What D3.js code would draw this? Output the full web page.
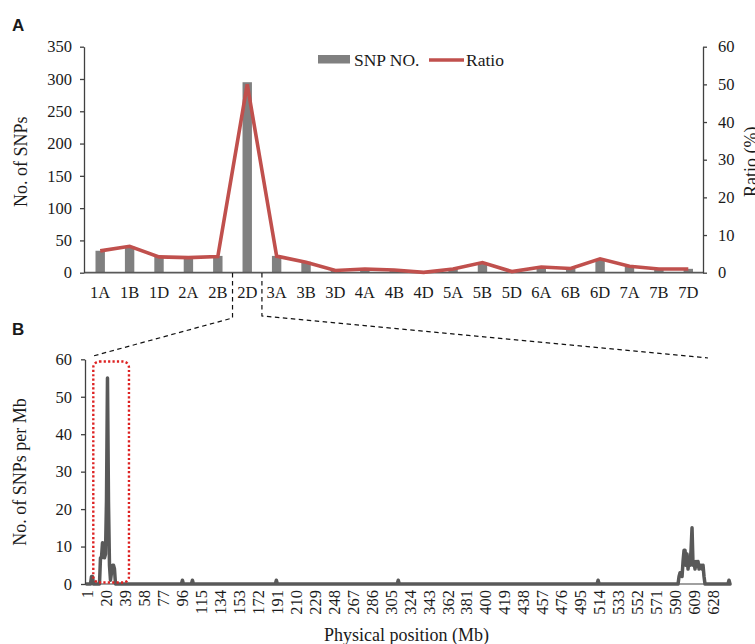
<!DOCTYPE html>
<html>
<head>
<meta charset="utf-8">
<script src="https://cdn.jsdelivr.net/npm/d3@7"></script>
<style>
  body { margin: 0; background: #fff; }
  svg { display: block; }
  text { font-family: "Liberation Serif", "Times New Roman", serif; fill: #1a1a1a; }
</style>
</head>
<body>
<svg id="svg"></svg>
<script>
const svgWidth = 755;
const svgHeight = 644;

// Panel A: SNPs per chromosome
const chromosomes = ["1A", "1B", "1D", "2A", "2B", "2D", "3A", "3B", "3D", "4A", "4B",
  "4D", "5A", "5B", "5D", "6A", "6B", "6D", "7A", "7B", "7D"];
const snpCounts = [34, 41, 25, 24, 26, 295, 26, 17, 3, 6, 4, 1, 6, 14, 2, 9, 7, 21, 10, 6, 6];
const ratios = [5.8, 7.0, 4.2, 4.0, 4.3, 50.0, 4.4, 2.8, 0.6, 1.0, 0.7, 0.1, 1.0, 2.7, 0.3,
  1.5, 1.1, 3.7, 1.7, 1.0, 1.0];
const countTicks = [0, 50, 100, 150, 200, 250, 300, 350];
const ratioTicks = [0, 10, 20, 30, 40, 50, 60];

// Panel B: SNPs per Mb along 2D (positions not listed are 0)
const chrLength = 645;
const nonZeroBins = [
  [6, 2], [7, 2],
  [15, 7], [16, 7], [17, 11], [18, 10], [19, 7], [20, 8], [21, 22], [22, 55], [23, 22],
  [24, 5], [25, 1], [26, 3], [27, 5], [28, 5], [29, 4],
  [97, 1], [107, 1], [191, 1], [313, 1], [513, 1],
  [594, 2], [595, 3], [596, 3], [597, 2], [598, 6], [599, 9], [600, 9], [601, 5], [602, 8],
  [603, 4], [604, 7], [605, 5], [606, 9], [607, 15], [608, 5], [609, 6], [610, 4], [611, 6],
  [612, 5], [613, 6], [614, 4], [615, 5], [616, 5], [617, 4], [618, 5], [619, 2],
  [644, 1]
];
const positionTicks = [1, 20, 39, 58, 77, 96, 115, 134, 153, 172, 191, 210, 229, 248, 267,
  286, 305, 324, 343, 362, 381, 400, 419, 438, 457, 476, 495, 514, 533, 552, 571, 590, 609, 628];
const densityTicks = [0, 10, 20, 30, 40, 50, 60];

const barColor = "#808080";
const ratioColor = "#c0504d";
const densityColor = "#595959";
const axisColor = "#404040";

let svg = d3.select("#svg").attr("width", svgWidth).attr("height", svgHeight);

function styleAxis(g, size) {
  g.selectAll("path.domain").attr("stroke", axisColor).attr("stroke-width", 1.3);
  g.selectAll(".tick line").attr("stroke", axisColor).attr("stroke-width", 1.3);
  g.selectAll(".tick text")
    .style("font-family", '"Liberation Serif", "Times New Roman", serif')
    .style("font-size", size + "px")
    .attr("fill", "#1a1a1a");
}

function makePanelA() {
  const xScale = d3.scaleBand().domain(chromosomes).range([85.5, 703]);
  const yScale = d3.scaleLinear().domain([0, 350]).range([272.7, 46.7]);
  const rScale = d3.scaleLinear().domain([0, 60]).range([272.7, 46.7]);
  const barW = xScale.step() * 0.32;

  // bars
  svg.append("g")
    .selectAll("rect")
    .data(chromosomes)
    .join("rect")
    .attr("x", (d) => xScale(d) + xScale.bandwidth() / 2 - barW / 2)
    .attr("y", (d, i) => yScale(snpCounts[i]))
    .attr("width", barW)
    .attr("height", (d, i) => yScale(0) - yScale(snpCounts[i]))
    .attr("fill", barColor);

  // x axis
  const xAxis = svg.append("g")
    .attr("transform", "translate(0," + yScale(0) + ")")
    .call(d3.axisBottom(xScale).tickSize(0).tickSizeOuter(0).tickPadding(13.6));
  xAxis.select("path.domain").remove();
  styleAxis(xAxis, 16.5);
  svg.append("line")
    .attr("x1", 84).attr("x2", 703)
    .attr("y1", yScale(0)).attr("y2", yScale(0))
    .attr("stroke", "#595959").attr("stroke-width", 1.8);

  // ratio line
  const line = d3.line()
    .x((d) => xScale(d) + xScale.bandwidth() / 2)
    .y((d, i) => rScale(ratios[i]));
  svg.append("path")
    .datum(chromosomes)
    .attr("d", line)
    .attr("fill", "none")
    .attr("stroke", ratioColor)
    .attr("stroke-width", 3.6);

  // left axis
  const left = svg.append("g")
    .attr("transform", "translate(84,0)")
    .call(d3.axisLeft(yScale).tickValues(countTicks).tickSize(4).tickSizeOuter(0).tickPadding(8));
  styleAxis(left, 16.5);

  // right axis
  const right = svg.append("g")
    .attr("transform", "translate(703,0)")
    .call(d3.axisRight(rScale).tickValues(ratioTicks).tickSize(4).tickSizeOuter(0).tickPadding(11));
  styleAxis(right, 16.5);

  // axis titles
  svg.append("text")
    .attr("transform", "translate(26.5,161.7) rotate(-90)")
    .attr("text-anchor", "middle")
    .style("font-size", "18px")
    .text("No. of SNPs");
  svg.append("text")
    .attr("transform", "translate(757,161.7) rotate(-90)")
    .attr("text-anchor", "middle")
    .style("font-size", "18px")
    .text("Ratio (%)");

  // legend
  const legend = svg.append("g");
  legend.append("rect")
    .attr("x", 318).attr("y", 55).attr("width", 32).attr("height", 8.5)
    .attr("fill", barColor);
  legend.append("text").attr("x", 354).attr("y", 66).style("font-size", "17.5px").text("SNP NO.");
  legend.append("line")
    .attr("x1", 429).attr("x2", 464).attr("y1", 60).attr("y2", 60)
    .attr("stroke", ratioColor).attr("stroke-width", 3.6);
  legend.append("text").attr("x", 466).attr("y", 66).style("font-size", "17.5px").text("Ratio");

  return xScale;
}

function makePanelB() {
  const xScale = d3.scaleLinear().domain([1, chrLength]).range([86.5, 730]);
  const yScale = d3.scaleLinear().domain([0, 60]).range([584, 359.3]);

  const lookup = new Map(nonZeroBins);
  const bins = d3.range(1, chrLength + 1).map((mb) => ({ mb: mb, n: lookup.get(mb) || 0 }));

  // x axis line and rotated labels
  const xAxis = svg.append("g")
    .attr("transform", "translate(0," + yScale(0) + ")")
    .call(d3.axisBottom(xScale).tickValues(positionTicks).tickSize(0).tickSizeOuter(0));
  xAxis.select("path.domain").remove();
  styleAxis(xAxis, 16.5);
  xAxis.selectAll(".tick text")
    .attr("transform", "rotate(-90)")
    .attr("text-anchor", "end")
    .attr("x", -6)
    .attr("y", 0)
    .attr("dy", "0.35em");
  svg.append("line")
    .attr("x1", 85).attr("x2", 731)
    .attr("y1", yScale(0)).attr("y2", yScale(0))
    .attr("stroke", "#808080").attr("stroke-width", 1.5);

  // density line
  const line = d3.line().x((d) => xScale(d.mb)).y((d) => yScale(d.n));
  svg.append("path")
    .datum(bins)
    .attr("d", line)
    .attr("fill", "none")
    .attr("stroke", densityColor)
    .attr("stroke-width", 3.5)
    .attr("stroke-linejoin", "round")
    .attr("stroke-linecap", "round");

  // y axis
  const left = svg.append("g")
    .attr("transform", "translate(85,0)")
    .call(d3.axisLeft(yScale).tickValues(densityTicks).tickSize(4).tickSizeOuter(0).tickPadding(9));
  styleAxis(left, 16.5);

  svg.append("text")
    .attr("transform", "translate(25.5,472) rotate(-90)")
    .attr("text-anchor", "middle")
    .style("font-size", "18px")
    .text("No. of SNPs per Mb");
  svg.append("text")
    .attr("x", 406.5).attr("y", 641)
    .attr("text-anchor", "middle")
    .style("font-size", "18px")
    .text("Physical position (Mb)");

  // highlighted region
  svg.append("rect")
    .attr("x", xScale(7.8)).attr("y", yScale(59.4))
    .attr("width", xScale(43.5) - xScale(7.8))
    .attr("height", yScale(0.4) - yScale(59.4))
    .attr("rx", 6).attr("ry", 6)
    .attr("fill", "none")
    .attr("stroke", "#dd2222")
    .attr("stroke-width", 2.4)
    .attr("stroke-dasharray", "2.2,2.2");

  return { xScale, yScale };
}

function makeZoomLines(xA, b) {
  const left = xA("2D");
  const right = xA("2D") + xA.step();
  const dashed = (pts) => svg.append("path")
    .attr("d", d3.line()(pts))
    .attr("fill", "none")
    .attr("stroke", "#111")
    .attr("stroke-width", 1.2)
    .attr("stroke-dasharray", "4.5,3.5");
  dashed([[left, 273], [left, 318], [b.xScale(6.5), b.yScale(60) - 3]]);
  dashed([[right, 273], [right, 316], [708, 358]]);
}

function makeLabels() {
  svg.append("text").attr("x", 12).attr("y", 30.5)
    .style("font-family", '"Liberation Sans", Arial, sans-serif')
    .style("font-weight", "bold").style("font-size", "17px").text("A");
  svg.append("text").attr("x", 12).attr("y", 335)
    .style("font-family", '"Liberation Sans", Arial, sans-serif')
    .style("font-weight", "bold").style("font-size", "17px").text("B");
}

function initialize() {
  const xA = makePanelA();
  const b = makePanelB();
  makeZoomLines(xA, b);
  makeLabels();
}

initialize();
</script>
</body>
</html>
